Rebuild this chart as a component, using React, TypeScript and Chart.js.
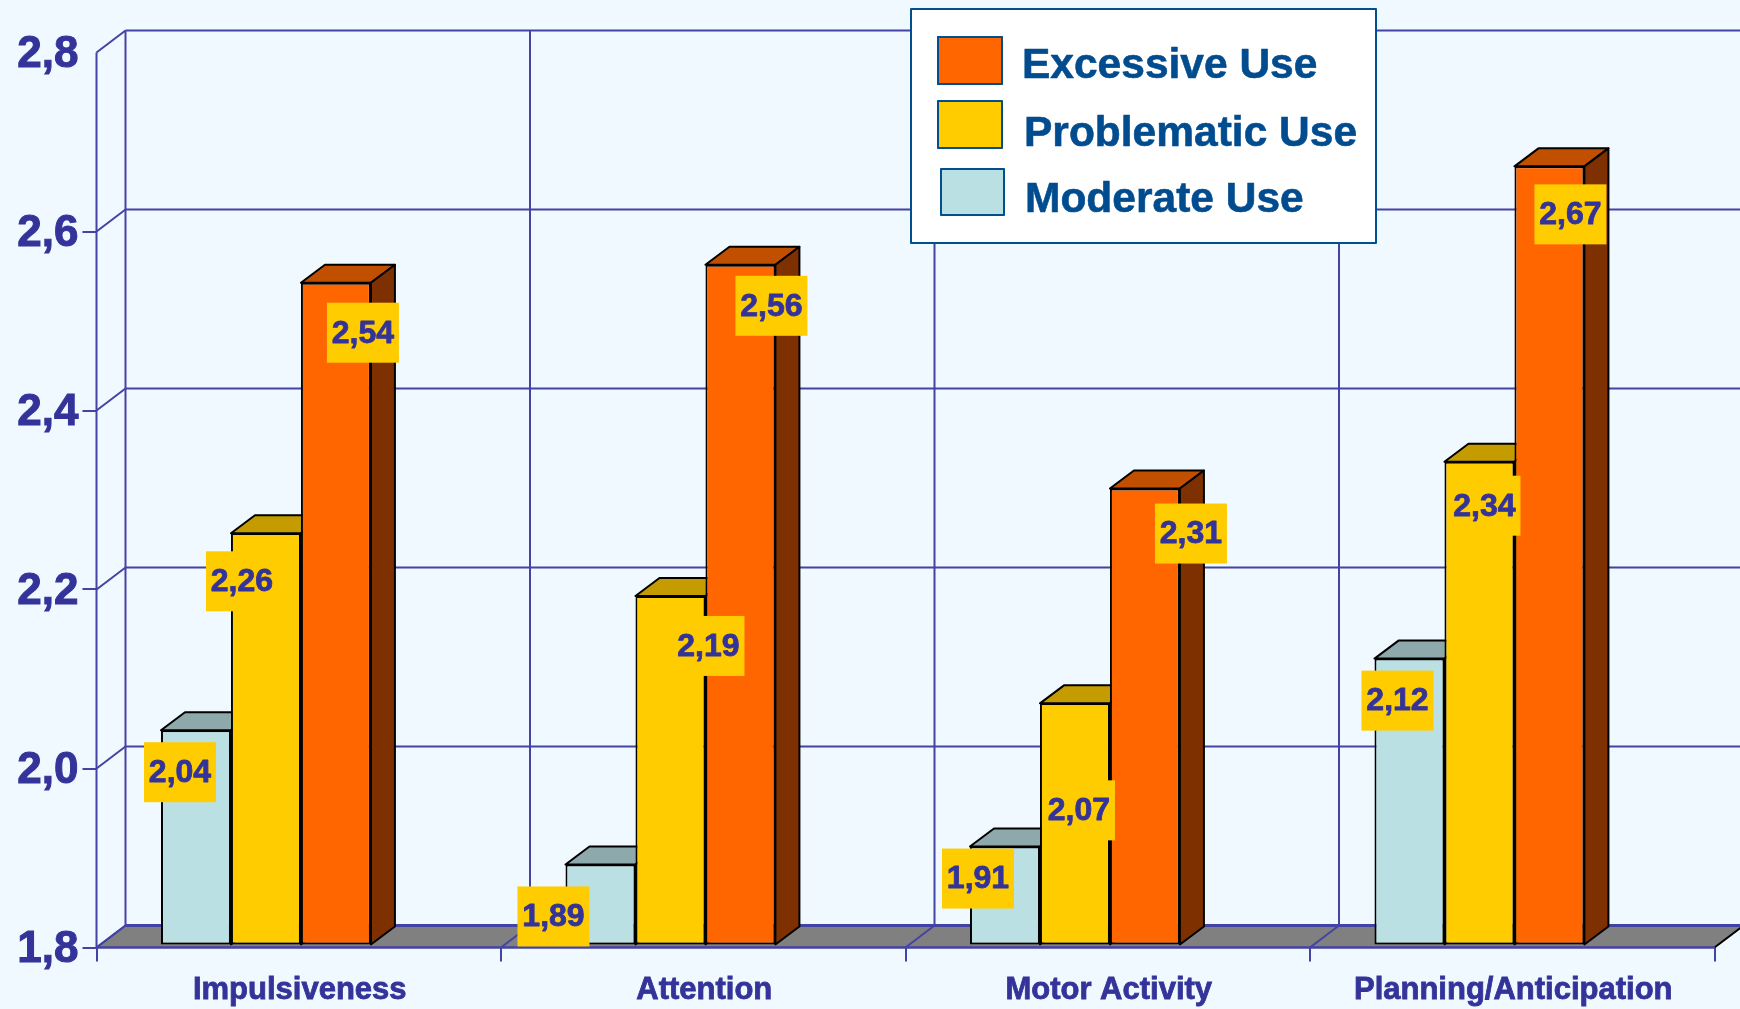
import React, { useEffect, useRef } from "react";
import { Chart, registerables } from "chart.js";

Chart.register(...registerables);

const categories = ["Impulsiveness", "Attention", "Motor Activity", "Planning/Anticipation"];
const moderateUse = [2.04, 1.89, 1.91, 2.12];
const problematicUse = [2.26, 2.19, 2.07, 2.34];
const excessiveUse = [2.54, 2.56, 2.31, 2.67];
const seriesNames = ["Moderate Use", "Problematic Use", "Excessive Use"];
const yTicks = [1.8, 2.0, 2.2, 2.4, 2.6, 2.8];

const FONT = "'Liberation Sans', Arial, sans-serif";
const INK = "#333399";
const LINE = "#4343A3";
const BG = "#F0F9FF";
const fills = ["#BAE0E3", "#FFCC00", "#FF6600"];
const tops = ["#8DA9AC", "#C49C00", "#C05000"];
const sides = ["#8DA9AC", "#C49C00", "#7F3000"];

// projection of the 3D box
const WALL_DX = 29;
const WALL_DY = 22;
const BAR_DX = 24;
const BAR_DY = 18;
const BAR_SHIFT_X = -32.8;
const BAR_SHIFT_Y = -2.5;

// hand-placed value labels: offset from the front face's top centre
const labelNudges = [
  [[-16, 41], [-47, 51], [-27, 31], [-12, 41]],
  [[-24, 47], [38, 49], [4, 106], [5, 43]],
  [[27, 49], [31, 40], [46, 44], [21, 47]],
];

const legendRows = [
  { series: 2, box: [937, 36, 66, 49], textX: 1022, baseY: 78 },
  { series: 1, box: [937, 100, 66, 49], textX: 1024, baseY: 146 },
  { series: 0, box: [940, 168, 65, 48], textX: 1025, baseY: 212 },
];

const poly = (ctx: any, pts: number[][], fill: string | null, stroke: string | null, lw = 2) => {
  ctx.beginPath();
  pts.forEach(([x, y], i) => (i ? ctx.lineTo(x, y) : ctx.moveTo(x, y)));
  ctx.closePath();
  if (fill) {
    ctx.fillStyle = fill;
    ctx.fill();
  }
  if (stroke) {
    ctx.strokeStyle = stroke;
    ctx.lineWidth = lw;
    ctx.lineJoin = "round";
    ctx.stroke();
  }
};

const seg = (ctx: any, x1: number, y1: number, x2: number, y2: number, color = LINE, lw = 2) => {
  ctx.beginPath();
  ctx.moveTo(x1, y1);
  ctx.lineTo(x2, y2);
  ctx.strokeStyle = color;
  ctx.lineWidth = lw;
  ctx.stroke();
};

const heavyText = (ctx: any, text: string, x: number, y: number, color: string, weight: number) => {
  ctx.fillStyle = color;
  ctx.strokeStyle = color;
  ctx.lineWidth = weight;
  ctx.lineJoin = "round";
  ctx.strokeText(text, x, y);
  ctx.fillText(text, x, y);
};

const box3d = {
  id: "box3d",
  afterDatasetsUpdate(chart: any) {
    const base = chart.scales.y.getPixelForValue(yTicks[0]) - 3;
    chart.data.datasets.forEach((_: any, d: number) => {
      chart.getDatasetMeta(d).data.forEach((el: any) => {
        el.x += BAR_SHIFT_X;
        el.y += BAR_SHIFT_Y;
        el.base = base;
      });
    });
  },
  beforeDatasetsDraw(chart: any) {
    const { ctx, chartArea: a, scales } = chart;
    const { x: xs, y: ys } = scales;
    ctx.save();
    const backBottom = a.bottom - WALL_DY;
    // floor
    poly(ctx, [[a.left, a.bottom], [a.right, a.bottom], [a.right + WALL_DX, backBottom], [a.left + WALL_DX, backBottom]], "#808080", null);
    seg(ctx, a.right, a.bottom, a.right + WALL_DX, backBottom, "#000000", 2);
    // back wall and left wall
    yTicks.forEach((v) => {
      const y = ys.getPixelForValue(v);
      const lw = v === yTicks[0] ? 3 : 2;
      seg(ctx, a.left + WALL_DX, y - WALL_DY, 1745, y - WALL_DY, LINE, lw);
      seg(ctx, a.left, y, a.left + WALL_DX, y - WALL_DY);
    });
    const step = (a.right - a.left) / categories.length;
    for (let i = 0; i < categories.length; i++) {
      const fx = xs.getPixelForValue(i) - step / 2;
      seg(ctx, fx + WALL_DX, a.top - WALL_DY, fx + WALL_DX, backBottom);
      seg(ctx, fx, a.bottom, fx + WALL_DX, backBottom);
    }
    seg(ctx, a.left, a.top, a.left, a.bottom);
    seg(ctx, a.left, a.bottom, a.right, a.bottom, LINE, 2.5);

    // bars, left to right so that neighbours hide each other's tops
    for (let c = 0; c < categories.length; c++) {
      for (let d = 0; d < seriesNames.length; d++) {
        const el = chart.getDatasetMeta(d).data[c];
        const l = el.x - el.width / 2;
        const r = el.x + el.width / 2;
        poly(ctx, [[l, el.y], [l + BAR_DX, el.y - BAR_DY], [r + BAR_DX, el.y - BAR_DY], [r, el.y]], tops[d], "#000000");
        poly(ctx, [[r, el.y], [r + BAR_DX, el.y - BAR_DY], [r + BAR_DX, el.base - BAR_DY], [r, el.base]], sides[d], "#000000");
        el.draw(ctx);
      }
    }
    ctx.restore();
    return false;
  },
  afterDraw(chart: any) {
    const { ctx } = chart;
    ctx.save();
    // value labels
    ctx.font = `bold 32px ${FONT}`;
    ctx.textAlign = "center";
    ctx.textBaseline = "middle";
    chart.data.datasets.forEach((ds: any, d: number) => {
      chart.getDatasetMeta(d).data.forEach((el: any, c: number) => {
        const [nx, ny] = labelNudges[d][c];
        const cx = el.x + nx;
        const cy = el.y + ny + 1;
        ctx.fillStyle = "#FFCC00";
        ctx.fillRect(cx - 36, cy - 30, 72, 60);
        heavyText(ctx, ds.data[c].toFixed(2).replace(".", ","), cx, cy + 1, INK, 0.8);
      });
    });
    // legend
    ctx.fillStyle = "#FFFFFF";
    ctx.fillRect(911, 9, 465, 234);
    ctx.strokeStyle = "#00508F";
    ctx.lineWidth = 2;
    ctx.strokeRect(911, 9, 465, 234);
    ctx.font = `bold 42.5px ${FONT}`;
    ctx.textAlign = "left";
    ctx.textBaseline = "alphabetic";
    legendRows.forEach(({ series, box, textX, baseY }) => {
      const [x, y, w, h] = box;
      ctx.fillStyle = fills[series];
      ctx.fillRect(x, y, w, h);
      ctx.strokeStyle = "#00508F";
      ctx.lineWidth = 2;
      ctx.strokeRect(x + 1, y + 1, w - 2, h - 2);
      heavyText(ctx, seriesNames[series], textX, baseY, "#004C8F", 0.6);
    });
    ctx.restore();
  },
};

export default function App() {
  const ref = useRef<HTMLCanvasElement>(null);
  useEffect(() => {
    document.body.style.background = BG;
    const chart = new Chart(ref.current as HTMLCanvasElement, {
      type: "bar",
      data: {
        labels: categories,
        datasets: [moderateUse, problematicUse, excessiveUse].map((values, i) => ({
          label: seriesNames[i],
          data: values,
          backgroundColor: fills[i],
          borderColor: "#000000",
          borderWidth: 2,
          borderSkipped: false,
          categoryPercentage: 0.519,
          barPercentage: 1,
        })),
      },
      options: {
        responsive: false,
        animation: false,
        events: [],
        layout: { padding: { top: 52.5, right: 25.5, left: 0, bottom: 0 } },
        plugins: { legend: { display: false }, tooltip: { enabled: false }, title: { display: false } },
        scales: {
          x: {
            afterFit: (s: any) => {
              s.height = 61.5;
            },
            border: { display: false },
            grid: { drawOnChartArea: false, tickLength: 14, tickColor: LINE, lineWidth: 2 },
            ticks: {
              color: INK,
              font: { family: FONT, size: 31, weight: "bold" },
              padding: 10,
              labelOffset: 1,
              maxRotation: 0,
              autoSkip: false,
              textStrokeColor: INK,
              textStrokeWidth: 0.8,
            },
          },
          y: {
            min: yTicks[0],
            max: yTicks[yTicks.length - 1],
            afterFit: (s: any) => {
              s.width = 96.5;
            },
            border: { display: false },
            grid: {
              drawOnChartArea: false,
              tickLength: 14,
              lineWidth: 2,
              tickColor: (c: any) => (c.tick && c.tick.value >= 2.79 ? "rgba(0,0,0,0)" : LINE),
            },
            ticks: {
              stepSize: 0.2,
              color: INK,
              padding: 4,
              labelOffset: 2.5,
              textStrokeColor: INK,
              textStrokeWidth: 1,
              font: { family: FONT, size: 44, weight: "bold" },
              callback: (v: any) => Number(v).toFixed(1).replace(".", ","),
            },
          },
        },
      },
      plugins: [box3d],
    } as any);
    return () => chart.destroy();
  }, []);
  return (
    <canvas
      ref={ref}
      width={1740}
      height={1009}
      style={{ position: "fixed", left: 0, top: 0, width: 1740, height: 1009, display: "block", background: BG }}
    />
  );
}
